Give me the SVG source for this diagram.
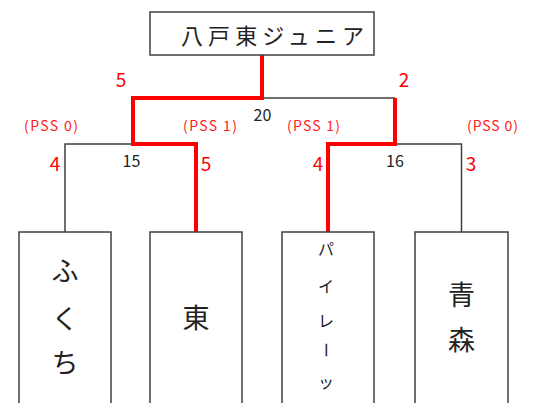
<svg xmlns="http://www.w3.org/2000/svg" width="548" height="403" viewBox="0 0 548 403">
<style>
.box{fill:#fff;stroke:#404040;stroke-width:1.5}
.ln{fill:none;stroke:#404040;stroke-width:1.5}
.win{fill:none;stroke:#ff0000;stroke-width:4;stroke-linejoin:miter}
text{font-family:"Noto Sans CJK JP","Noto Sans",sans-serif}
.nm{font-size:27px;fill:#222;text-anchor:middle}
.sm{font-size:16px;fill:#222;text-anchor:middle}
.sc{font-size:19px;fill:#ff0000;text-anchor:middle}
.pss{font-size:14px;fill:#ff2020}
.tot{font-size:16px;fill:#222;text-anchor:middle}
</style>
<rect width="548" height="403" fill="#fff"/>
<g id="connectors">
<path class="ln" d="M262 98H395M133 144H65V232M395 144H461.5V232"/>
<path class="win" d="M262 55V98H133V144H196V232"/>
<path class="win" d="M395 98V144H328V232"/>
</g>
<g id="champion">
<rect class="box" x="150" y="12" width="224" height="43"/>
<text x="181" y="44" font-size="22" fill="#222" textLength="183" lengthAdjust="spacing">八戸東ジュニア</text>
</g>
<g id="team-fukuchi">
<rect class="box" x="19" y="232" width="92" height="200"/>
<text class="nm" x="65" y="281">ふ</text>
<text class="nm" x="65" y="329">く</text>
<text class="nm" x="65" y="373">ち</text>
</g>
<g id="team-higashi">
<rect class="box" x="150" y="232" width="92" height="200"/>
<text class="nm" x="196" y="328">東</text>
</g>
<g id="team-pirates">
<rect class="box" x="282" y="232" width="92" height="200"/>
<text class="sm" x="326" y="255">パ</text>
<text class="sm" x="326" y="292">イ</text>
<text class="sm" x="326" y="327">レ</text>
<text class="sm" x="326" y="356" transform="rotate(90 326 350)">ー</text>
<text class="sm" x="326" y="388">ッ</text>
</g>
<g id="team-aomori">
<rect class="box" x="415" y="232" width="93" height="200"/>
<text class="nm" x="461.5" y="305">青</text>
<text class="nm" x="461.5" y="350">森</text>
</g>
<g id="labels">
<text class="sc" x="121" y="87">5</text>
<text class="sc" x="404" y="87">2</text>
<text class="tot" x="262.5" y="121">20</text>
<text class="tot" x="131.5" y="167">15</text>
<text class="tot" x="395" y="167">16</text>
<text class="sc" x="55" y="171">4</text>
<text class="sc" x="206" y="171">5</text>
<text class="sc" x="318" y="171">4</text>
<text class="sc" x="471" y="171">3</text>
<text class="pss" x="24" y="131" textLength="54" lengthAdjust="spacing">(PSS 0)</text>
<text class="pss" x="183" y="131" textLength="54" lengthAdjust="spacing">(PSS 1)</text>
<text class="pss" x="287" y="131" textLength="53" lengthAdjust="spacing">(PSS 1)</text>
<text class="pss" x="467" y="131" textLength="51" lengthAdjust="spacing">(PSS 0)</text>
</g>
</svg>
